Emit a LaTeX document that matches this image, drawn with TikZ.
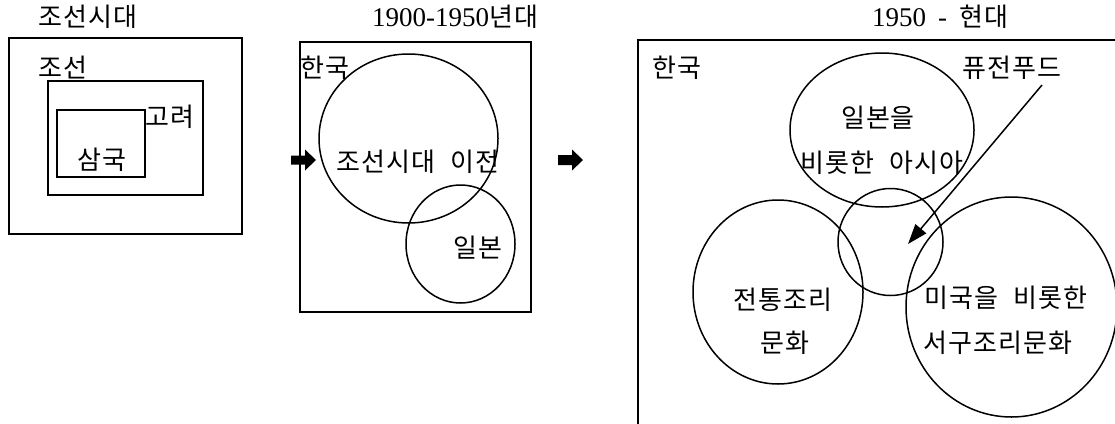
\documentclass[tikz,border=0pt]{standalone}
\usepackage{fontspec}
\setmainfont{Liberation Serif}
\newfontfamily\kr{Noto Sans CJK KR}[LetterSpace=4]
\usetikzlibrary{shapes.geometric,arrows.meta}
\newcommand{\hg}[1]{{\kr\fontsize{26}{28}\selectfont #1}}
\newcommand{\nm}[1]{{\fontsize{27}{29}\selectfont #1}}
\tikzset{
  box/.style={draw, line width=1.8pt, inner sep=0, fill=none},
  ring/.style={draw, ellipse, line width=1.5pt, inner sep=0},
  lbl/.style={inner sep=0, font=\kr\fontsize{26}{28}\selectfont},
  ttl/.style={inner sep=0},
  blockarrow/.style={fill=black},
  pointer/.style={line width=1.5pt, -{Triangle[length=20pt,width=14pt]}}
}
\begin{document}
\begin{tikzpicture}[x=1pt,y=-1pt]
\useasboundingbox (0,0) rectangle (1115,423);
\clip (0,0) rectangle (1115,423);

% ---------- left panel ----------
\node[ttl] (t1) at (88,17) {\hg{조선시대}};
\node[box, minimum width=233pt, minimum height=196pt] (outer) at (125.5,136) {};
\node[lbl] (joseon) at (63,68) {조선};
\node[box, minimum width=155pt, minimum height=114pt] (mid) at (125.5,138) {};
\node[lbl] (goryeo) at (170,117) {고려};
\node[box, minimum width=88pt, minimum height=67pt] (inner) at (101,143.5) {};
\node[lbl] (samguk) at (102,160) {삼국};

% ---------- arrow 1 ----------
\coordinate (a1) at (291,160);
\fill[blockarrow] (a1) ++(0,-4.5) -- ++(14,0) -- ++(0,-6) -- ++(11,10.5) -- ++(-11,10.5) -- ++(0,-6) -- ++(-14,0) -- cycle;

% ---------- middle panel ----------
\node[ttl] (t2) at (455,17) {\nm{1900-1950}\hg{년대}};
\node[box, minimum width=231pt, minimum height=270pt] (korea2) at (415.5,177) {};
\node[lbl] (hanguk2) at (325,68) {한국};
\node[ring, minimum width=179pt, minimum height=169pt] (pre) at (408.5,138.5) {};
\node[lbl] (pretext) at (418,162) {조선시대\hspace{8pt} 이전};
\node[ring, minimum width=109pt, minimum height=118pt] (japan) at (460.5,244) {};
\node[lbl] (japantext) at (478,248) {일본};

% ---------- arrow 2 ----------
\coordinate (a2) at (558,160);
\fill[blockarrow] (a2) ++(0,-5) -- ++(14,0) -- ++(0,-5.5) -- ++(11,10.5) -- ++(-11,10.5) -- ++(0,-5.5) -- ++(-14,0) -- cycle;

% ---------- right panel ----------
\node[ttl] (t3) at (940,17) {\nm{1950}\hspace{12pt}\nm{-}\hspace{12pt}\hg{현대}};
\draw[line width=1.8pt] (1130,40) -- (638,40) -- (638,440);
\node[lbl] (hanguk3) at (677,68) {한국};
\node[lbl] (fusion) at (1012,68) {퓨전푸드};
\node[ring, minimum width=184pt, minimum height=154pt] (asia) at (882,130) {};
\node[lbl] (asia1) at (878,118) {일본을};
\node[lbl] (asia2) at (882,163) {비롯한\hspace{8pt} 아시아};
\node[ring, minimum width=105pt, minimum height=107pt] (fuse) at (890.5,242) {};
\node[ring, minimum width=170pt, minimum height=184pt] (trad) at (778,292) {};
\node[lbl] (trad1) at (783,300) {전통조리};
\node[lbl] (trad2) at (785,343) {문화};
\node[ring, minimum width=211pt, minimum height=220pt] (west) at (1011.5,307) {};
\node[lbl] (west1) at (1006,298) {미국을\hspace{8pt} 비롯한};
\node[lbl] (west2) at (998,343) {서구조리문화};

\coordinate (fs) at (1042,85);
\coordinate (fx) at (908,244);
\draw[pointer] (fs) -- (fx);
\end{tikzpicture}
\end{document}
